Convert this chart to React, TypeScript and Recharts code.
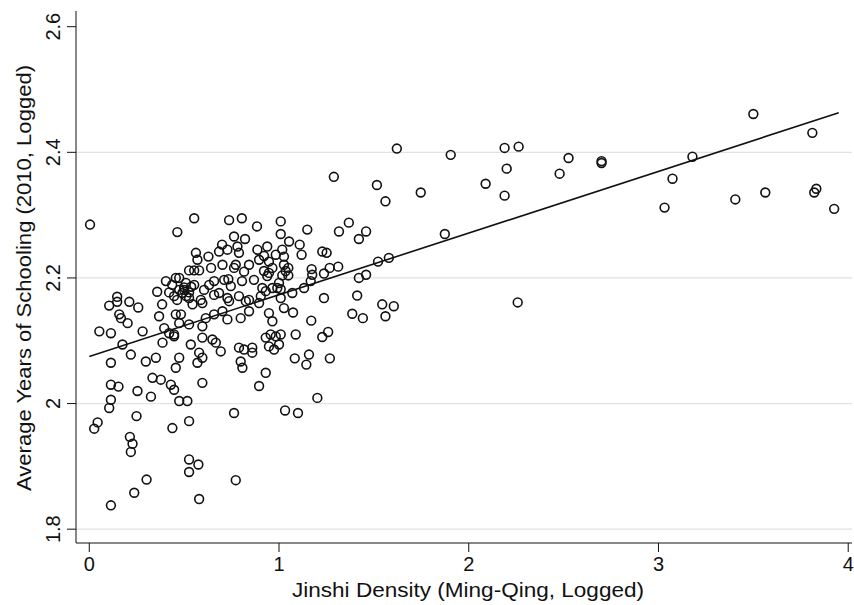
import { ScatterChart, Scatter, XAxis, YAxis, ReferenceLine, Label } from 'recharts'

const DENSITY = [
  0.004, 0.464, 0.404, 0.456, 0.358, 0.384, 0.147, 0.147, 0.105, 0.211, 0.258, 0.158, 0.167, 0.202, 0.053, 0.114,
  0.175, 0.281, 0.219, 0.114, 0.298, 0.351, 0.368, 0.395, 0.386, 0.447, 0.474, 0.456, 0.333, 0.377, 0.430, 0.447,
  0.114, 0.154, 0.254, 0.325, 0.114, 0.105, 0.474, 0.517, 0.044, 0.026, 0.249, 0.438, 0.526, 0.763, 1.032, 0.214,
  0.228, 0.219, 0.526, 0.575, 0.526, 0.302, 0.237, 0.114, 0.579, 0.772, 0.596, 0.895, 0.930,
  0.456, 0.483, 0.447, 0.535, 0.596, 0.649, 0.667, 0.693, 0.579, 0.596, 0.570, 0.789, 0.816, 0.859, 0.859, 0.798,
  0.807, 0.930, 0.956, 0.983, 0.947, 0.974, 1.000, 1.026, 0.947, 0.965, 0.798, 0.842, 0.728, 0.702, 0.658, 0.596,
  0.526, 0.474, 0.421, 0.614, 0.544, 0.596, 0.737, 0.825, 0.895,
  0.553, 0.737, 0.804, 0.884, 1.009, 1.009, 0.763, 0.821, 0.700, 0.562, 0.570, 0.628, 0.684, 0.728, 0.781, 0.789,
  0.702, 0.763, 0.886, 0.938, 0.983, 0.895, 1.026, 0.965, 0.526, 0.553, 0.579, 0.474, 0.437, 0.509, 0.632, 0.711,
  0.746, 0.805, 0.868, 0.912, 0.965, 1.000, 0.938, 1.017, 0.684, 0.728, 0.789, 0.842, 0.447, 0.526, 0.588, 0.491,
  0.500, 0.537, 0.463, 0.605, 0.658, 0.921, 0.947, 0.842, 0.642, 0.816,
  0.500, 0.526, 0.553, 0.511, 0.474, 0.421, 0.930, 0.904, 0.991, 1.035, 0.921, 0.947, 0.772, 0.733, 0.658,
  1.149, 1.316, 1.368, 1.421, 1.459, 1.053, 1.109, 1.119, 1.228, 1.251, 1.017, 1.026, 1.049, 1.049, 1.172, 1.175,
  1.237, 1.267, 1.312, 1.421, 1.459, 1.522, 1.579, 1.167, 1.132, 1.070, 1.009, 1.237, 1.412, 1.544, 1.605, 1.009,
  1.561,
  1.074, 1.170, 1.386, 1.442, 1.561, 1.088, 1.009, 1.228, 1.259, 1.083, 1.158, 1.144, 1.268, 1.202,
  1.289, 1.621, 1.516, 1.747, 1.905, 1.874, 2.089, 2.189, 2.263, 2.200, 2.189, 2.258, 2.479, 2.526, 2.700, 2.700,
  3.032, 3.074, 3.179, 3.405, 3.563, 3.500, 3.821, 3.832, 3.811, 3.926, 1.100,
]

// average years of schooling 2010 (logged), same order
const SCHOOLING = [
  2.285, 2.273, 2.195, 2.200, 2.178, 2.158, 2.170, 2.162, 2.156, 2.162, 2.153, 2.142, 2.136, 2.128, 2.115, 2.112,
  2.094, 2.115, 2.078, 2.065, 2.067, 2.073, 2.139, 2.120, 2.097, 2.107, 2.073, 2.057, 2.041, 2.038, 2.030, 2.022,
  2.030, 2.027, 2.020, 2.011, 2.006, 1.993, 2.004, 2.004, 1.970, 1.960, 1.980, 1.961, 1.972, 1.985, 1.989, 1.947,
  1.936, 1.923, 1.911, 1.903, 1.891, 1.879, 1.858, 1.838, 1.848, 1.878, 2.033, 2.028, 2.049,
  2.142, 2.142, 2.110, 2.094, 2.105, 2.102, 2.097, 2.083, 2.081, 2.073, 2.065, 2.089, 2.086, 2.089, 2.081, 2.067,
  2.057, 2.105, 2.110, 2.107, 2.091, 2.086, 2.094, 2.152, 2.144, 2.131, 2.136, 2.147, 2.134, 2.147, 2.142, 2.123,
  2.126, 2.128, 2.112, 2.136, 2.158, 2.160, 2.163, 2.163, 2.160,
  2.295, 2.292, 2.295, 2.282, 2.290, 2.270, 2.266, 2.262, 2.253, 2.240, 2.229, 2.234, 2.242, 2.245, 2.250, 2.240,
  2.221, 2.216, 2.245, 2.250, 2.237, 2.229, 2.221, 2.216, 2.212, 2.212, 2.212, 2.200, 2.189, 2.192, 2.189, 2.197,
  2.187, 2.195, 2.197, 2.184, 2.184, 2.192, 2.203, 2.204, 2.176, 2.168, 2.171, 2.165, 2.171, 2.168, 2.165, 2.176,
  2.181, 2.186, 2.165, 2.181, 2.173, 2.235, 2.226, 2.221, 2.216, 2.210,
  2.185, 2.177, 2.189, 2.171, 2.181, 2.177, 2.179, 2.171, 2.184, 2.211, 2.211, 2.208, 2.221, 2.198, 2.195,
  2.277, 2.274, 2.288, 2.262, 2.274, 2.258, 2.253, 2.237, 2.242, 2.240, 2.245, 2.234, 2.216, 2.204, 2.214, 2.205,
  2.207, 2.216, 2.218, 2.200, 2.205, 2.226, 2.232, 2.195, 2.184, 2.176, 2.182, 2.168, 2.172, 2.158, 2.155, 2.168,
  2.322,
  2.145, 2.132, 2.143, 2.136, 2.139, 2.110, 2.110, 2.106, 2.114, 2.072, 2.078, 2.062, 2.072, 2.009,
  2.361, 2.406, 2.348, 2.336, 2.396, 2.270, 2.350, 2.407, 2.409, 2.374, 2.331, 2.161, 2.366, 2.391, 2.383, 2.386,
  2.312, 2.358, 2.393, 2.325, 2.336, 2.461, 2.336, 2.342, 2.431, 2.310, 1.985,
]

// linear fit, end points
const FIT_X = [0, 3.95]
const FIT_Y = [2.075, 2.463]

const X_TICKS = [0, 1, 2, 3, 4]
const Y_TICKS = [1.8, 2, 2.2, 2.4, 2.6]
const GRID_Y = [1.8, 2, 2.2, 2.4]

const FONT = '"Liberation Sans", Arial, Helvetica, sans-serif'
const INK = '#111'

const points = DENSITY.map((x, i) => ({ x, y: SCHOOLING[i] }))
const fit = FIT_X.map((x, i) => ({ x, y: FIT_Y[i] }))

function Hollow(props: any) {
  return <circle cx={props.cx} cy={props.cy} r={4.4} fill="none" stroke={INK} strokeWidth={1.6} />
}

function YTick({ x, y, payload }: any) {
  const bx = x - 5
  return (
    <text x={bx} y={y} transform={`rotate(-90 ${bx} ${y})`} textAnchor="middle"
      fontFamily={FONT} fontSize={20} fill={INK}>
      {String(payload.value)}
    </text>
  )
}

export default function App() {
  return (
    <div style={{ position: 'absolute', left: 0, top: 0, background: '#fff' }}>
      <ScatterChart width={854} height={605} margin={{ top: 11, right: 2, left: 0, bottom: 0 }}>
        {GRID_Y.map((v) => (
          <ReferenceLine key={v} y={v} stroke="#e2e2e2" strokeWidth={1.2} />
        ))}
        <XAxis dataKey="x" type="number" domain={[-0.07, 4.02]} ticks={X_TICKS} allowDataOverflow
          height={62} stroke={INK} tickSize={9} tickMargin={5}
          tick={{ fontFamily: FONT, fontSize: 20, fill: INK }}>
          <Label content={() => (
            <text x={468} y={597} textAnchor="middle" fontFamily={FONT} fontSize={20} fill={INK}
              textLength={352} lengthAdjust="spacingAndGlyphs">
              Jinshi Density (Ming-Qing, Logged)
            </text>
          )} />
        </XAxis>
        <YAxis dataKey="y" type="number" domain={[1.778, 2.625]} ticks={Y_TICKS} allowDataOverflow
          width={76} stroke={INK} tickSize={9} tick={<YTick />}>
          <Label content={() => (
            <text x={31} y={278} transform="rotate(-90 31 278)" textAnchor="middle"
              fontFamily={FONT} fontSize={20} fill={INK} textLength={426} lengthAdjust="spacingAndGlyphs">
              Average Years of Schooling (2010, Logged)
            </text>
          )} />
        </YAxis>
        <Scatter data={points} shape={<Hollow />} isAnimationActive={false} />
        <Scatter data={fit} line={{ stroke: INK, strokeWidth: 1.6 }} shape={() => <g />}
          isAnimationActive={false} />
      </ScatterChart>
    </div>
  )
}
